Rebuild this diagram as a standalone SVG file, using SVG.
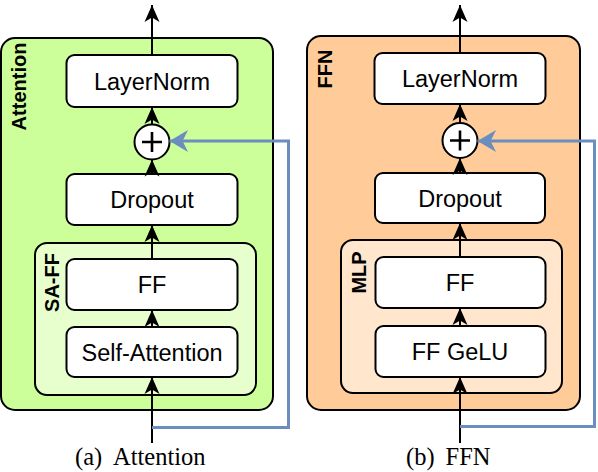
<svg xmlns="http://www.w3.org/2000/svg" width="598" height="472" viewBox="0 0 598 472">
<defs>
<style>
.box{fill:#ffffff;stroke:#000000;stroke-width:2}
.outerA{fill:#CCFF99;stroke:#000000;stroke-width:2}
.innerA{fill:#E6FFCC;stroke:#000000;stroke-width:2}
.outerB{fill:#FFCC99;stroke:#000000;stroke-width:2}
.innerB{fill:#FFE6CC;stroke:#000000;stroke-width:2}
.lbl{font-family:"Liberation Sans",Arial,sans-serif;font-size:23.5px;fill:#000;text-anchor:middle}
.vlbl{font-family:"Liberation Sans",Arial,sans-serif;font-size:20px;font-weight:bold;fill:#000;text-anchor:middle}
.cap{font-family:"Liberation Serif","Times New Roman",serif;font-size:24.5px;fill:#000}
.edge{fill:none;stroke:#000;stroke-width:2}
.res{fill:none;stroke:#6C8EBF;stroke-width:3}
.plus{fill:none;stroke:#000;stroke-width:2.6}
</style>
<marker id="ah" markerUnits="userSpaceOnUse" markerWidth="20" markerHeight="20" viewBox="-15 -8 16 16" refX="0" refY="0" orient="auto">
<path d="M0,0 L-13.5,-6 L-10,0 L-13.5,6 Z" fill="#000"/>
</marker>
<marker id="bh" markerUnits="userSpaceOnUse" markerWidth="24" markerHeight="24" viewBox="-19 -11 20 22" refX="0" refY="0" orient="auto">
<path d="M0,0 L-17,-10 L-12,0 L-17,10 Z" fill="#6C8EBF"/>
</marker>
</defs>

<g id="panel-attention">
<rect x="1" y="38" width="272" height="372" rx="14" class="outerA"/>
<text class="vlbl" transform="translate(25.5,86.5) rotate(-90)">Attention</text>
</g>
<g id="sa-ff">
<rect x="35" y="243" width="221" height="152" rx="12" class="innerA"/>
<text class="vlbl" transform="translate(58.5,282.5) rotate(-90)">SA-FF</text>
</g>
<g id="a-layernorm">
<rect x="66.5" y="55" width="171" height="52" rx="8" class="box"/>
<text class="lbl" x="152" y="90">LayerNorm</text>
</g>
<g id="a-add">
<circle cx="152" cy="142" r="17.5" class="box"/>
<path class="plus" d="M142,142 H162 M152,132 V152"/>
</g>
<g id="a-dropout">
<rect x="66.5" y="174" width="171" height="51" rx="8" class="box"/>
<text class="lbl" x="152" y="208">Dropout</text>
</g>
<g id="a-ff">
<rect x="66.5" y="259" width="171" height="51" rx="8" class="box"/>
<text class="lbl" x="152" y="293">FF</text>
</g>
<g id="a-selfattn">
<rect x="66.5" y="327" width="171" height="50" rx="8" class="box"/>
<text class="lbl" x="152" y="360.5">Self-Attention</text>
</g>

<g id="panel-ffn">
<rect x="307" y="36" width="273" height="374" rx="14" class="outerB"/>
<text class="vlbl" transform="translate(331.5,69) rotate(-90)">FFN</text>
</g>
<g id="mlp">
<rect x="341" y="240" width="221" height="153" rx="12" class="innerB"/>
<text class="vlbl" transform="translate(366,272.5) rotate(-90)">MLP</text>
</g>
<g id="b-layernorm">
<rect x="374.5" y="53" width="171" height="51" rx="8" class="box"/>
<text class="lbl" x="460" y="87">LayerNorm</text>
</g>
<g id="b-add">
<circle cx="460" cy="140.5" r="17.5" class="box"/>
<path class="plus" d="M450,140.5 H470 M460,130.5 V150.5"/>
</g>
<g id="b-dropout">
<rect x="375" y="173" width="170" height="50" rx="8" class="box"/>
<text class="lbl" x="460" y="206.5">Dropout</text>
</g>
<g id="b-ff">
<rect x="375.5" y="257" width="170" height="51" rx="8" class="box"/>
<text class="lbl" x="460" y="291">FF</text>
</g>
<g id="b-ffgelu">
<rect x="375.5" y="326" width="170" height="51" rx="8" class="box"/>
<text class="lbl" x="460" y="360">FF GeLU</text>
</g>

<g id="connectors">
<path class="edge" d="M152,55 V5" marker-end="url(#ah)"/>
<path class="edge" d="M152,124.5 V107" marker-end="url(#ah)"/>
<path class="edge" d="M152,174 V159.5" marker-end="url(#ah)"/>
<path class="edge" d="M152,259 V225" marker-end="url(#ah)"/>
<path class="edge" d="M152,327 V310" marker-end="url(#ah)"/>
<path class="edge" d="M152,443 V377" marker-end="url(#ah)"/>
<path class="res" d="M152,427.5 H288.5 V141 H169.5" marker-end="url(#bh)"/>

<path class="edge" d="M460,53 V5" marker-end="url(#ah)"/>
<path class="edge" d="M460,123 V104" marker-end="url(#ah)"/>
<path class="edge" d="M460,173 V158" marker-end="url(#ah)"/>
<path class="edge" d="M460,257 V223" marker-end="url(#ah)"/>
<path class="edge" d="M460,326 V308" marker-end="url(#ah)"/>
<path class="edge" d="M460,443 V377" marker-end="url(#ah)"/>
<path class="res" d="M460,426.5 H594.5 V141 H477.5" marker-end="url(#bh)"/>
</g>

<g id="captions">
<text class="cap" x="75" y="465">(a)</text>
<text class="cap" x="113" y="465">Attention</text>
<text class="cap" x="406" y="465">(b)</text>
<text class="cap" x="445.5" y="465">FFN</text>
</g>
</svg>
